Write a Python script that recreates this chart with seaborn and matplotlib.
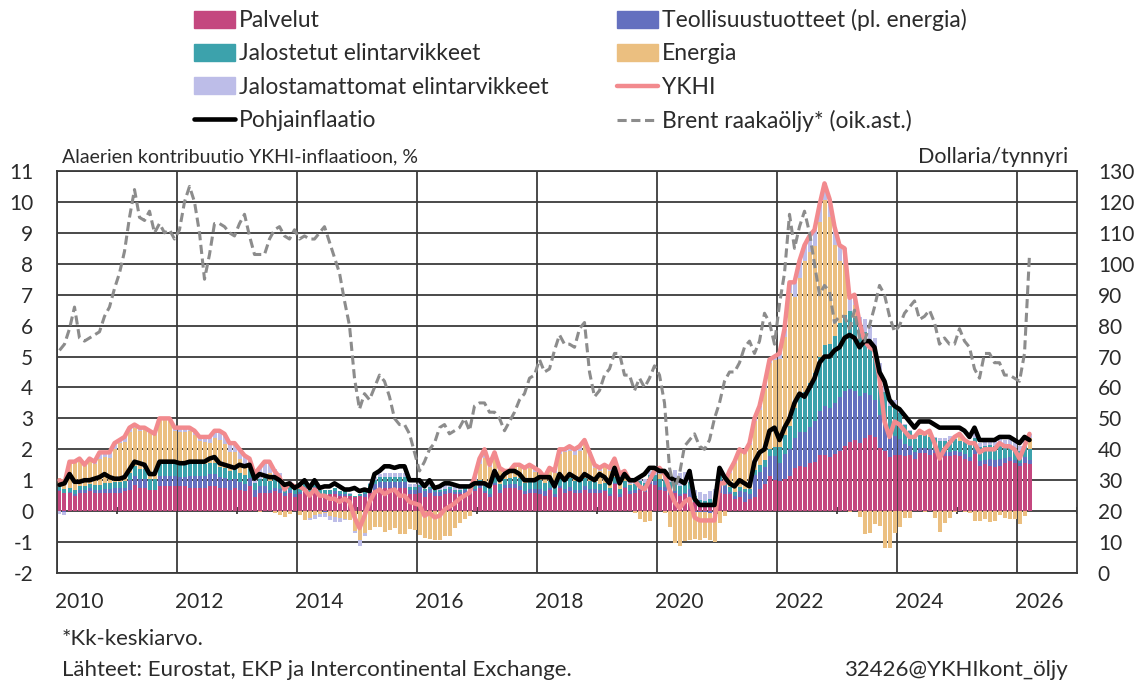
import numpy as np
import pandas as pd
import seaborn as sns
import matplotlib.pyplot as plt
from matplotlib.patches import Patch
from matplotlib.lines import Line2D

# Kuukausidata 1/2010 - 3/2026, kontribuutiot %-yksikköinä
alku = "2010-01"

palvelut = [
    0.65, 0.6, 0.6, 0.5, 0.6, 0.6, 0.65, 0.6, 0.6, 0.6, 0.6, 0.6,            # 2010
    0.6, 0.65, 0.7, 0.85, 0.75, 0.75, 0.7, 0.7, 0.8, 0.8, 0.8, 0.8,          # 2011
    0.8, 0.8, 0.75, 0.75, 0.75, 0.75, 0.8, 0.8, 0.75, 0.75, 0.7, 0.75,       # 2012
    0.7, 0.65, 0.8, 0.45, 0.6, 0.6, 0.6, 0.65, 0.6, 0.5, 0.6, 0.45,          # 2013
    0.55, 0.65, 0.55, 0.75, 0.5, 0.55, 0.55, 0.55, 0.5, 0.5, 0.5, 0.45,      # 2014
    0.5, 0.45, 0.6, 0.7, 0.75, 0.75, 0.75, 0.75, 0.75, 0.75, 0.55, 0.55,     # 2015
    0.6, 0.45, 0.6, 0.5, 0.5, 0.55, 0.6, 0.55, 0.55, 0.6, 0.55, 0.65,        # 2016
    0.74, 0.6, 0.46, 0.83, 0.6, 0.74, 0.74, 0.74, 0.69, 0.55, 0.6, 0.6,      # 2017
    0.55, 0.5, 0.69, 0.46, 0.74, 0.6, 0.64, 0.6, 0.6, 0.69, 0.6, 0.6,        # 2018
    0.6, 0.64, 0.5, 0.87, 0.46, 0.74, 0.55, 0.6, 0.69, 0.63, 0.87, 0.83,     # 2019
    0.69, 0.64, 0.53, 0.6, 0.5, 0.55, 0.41, 0.3, 0.23, 0.2, 0.26, 0.3,       # 2020
    0.59, 0.55, 0.55, 0.38, 0.46, 0.29, 0.38, 0.46, 0.71, 0.88, 1.13, 1.01,  # 2021
    0.97, 1.05, 1.13, 1.39, 1.47, 1.43, 1.55, 1.6, 1.81, 1.81, 1.76, 1.85,   # 2022
    1.94, 2.11, 2.24, 2.29, 2.2, 2.38, 2.46, 2.4, 2.05, 1.95, 1.75, 1.8,     # 2023
    1.82, 1.77, 1.82, 1.68, 1.87, 1.87, 1.82, 1.87, 1.82, 1.77, 1.77, 1.82,  # 2024
    1.79, 1.7, 1.61, 1.84, 1.47, 1.52, 1.47, 1.43, 1.47, 1.56, 1.61, 1.56,   # 2025
    1.47, 1.56, 1.52,                                                        # 2026
]

teollisuus = [
    0.03, -0.02, 0.03, 0.05, 0.1, 0.1, 0.1, 0.1, 0.1, 0.12, 0.12, 0.15,
    0.15, 0.1, 0.3, 0.3, 0.3, 0.3, 0.0, 0.0, 0.35, 0.35, 0.35, 0.35,
    0.3, 0.3, 0.4, 0.4, 0.4, 0.4, 0.4, 0.4, 0.35, 0.32, 0.3, 0.3,
    0.25, 0.22, 0.28, 0.22, 0.2, 0.22, 0.1, 0.1, 0.12, 0.1, 0.1, 0.1,
    0.06, 0.12, 0.06, 0.03, 0.0, -0.03, 0.0, 0.1, 0.05, 0.07, 0.0, 0.0,
    0.0, 0.1, 0.15, 0.18, 0.2, 0.2, 0.2, 0.2, 0.2, 0.2, 0.12, 0.12,
    0.19, 0.19, 0.13, 0.13, 0.13, 0.11, 0.11, 0.08, 0.08, 0.08, 0.08, 0.08,
    0.13, 0.05, 0.08, 0.08, 0.08, 0.11, 0.13, 0.13, 0.13, 0.11, 0.11, 0.13,
    0.18, 0.16, 0.05, 0.08, 0.08, 0.11, 0.13, 0.08, 0.08, 0.11, 0.11, 0.11,
    0.08, 0.05, 0.05, 0.05, 0.08, 0.05, 0.11, 0.08, 0.08, 0.08, 0.11, 0.13,
    0.08, 0.13, 0.13, 0.05, 0.05, 0.05, 0.3, -0.03, -0.03, -0.02, -0.06, -0.1,
    0.41, 0.27, 0.08, 0.11, 0.19, 0.32, 0.19, 0.7, 0.57, 0.54, 0.65, 0.78,
    0.6, 0.81, 0.88, 0.99, 1.09, 1.12, 1.17, 1.3, 1.43, 1.59, 1.59, 1.66,
    1.74, 1.77, 1.72, 1.61, 1.51, 1.43, 1.3, 1.2, 1.05, 0.85, 0.7, 0.62,
    0.51, 0.41, 0.28, 0.23, 0.18, 0.18, 0.18, 0.1, 0.1, 0.13, 0.15, 0.13,
    0.13, 0.15, 0.15, 0.15, 0.15, 0.13, 0.21, 0.21, 0.21, 0.15, 0.13, 0.1,
    0.1, 0.18, 0.13,
]

jalostetut = [
    0.1, 0.12, 0.12, 0.12, 0.12, 0.12, 0.12, 0.14, 0.15, 0.18, 0.2, 0.2,
    0.2, 0.22, 0.25, 0.3, 0.3, 0.3, 0.33, 0.35, 0.37, 0.4, 0.42, 0.42,
    0.42, 0.42, 0.42, 0.4, 0.38, 0.36, 0.35, 0.35, 0.33, 0.32, 0.3, 0.3,
    0.3, 0.3, 0.28, 0.25, 0.25, 0.25, 0.28, 0.3, 0.32, 0.25, 0.22, 0.2,
    0.2, 0.2, 0.18, 0.16, 0.2, 0.14, 0.14, 0.1, 0.1, 0.1, 0.06, 0.05,
    0.07, 0.1, 0.12, 0.14, 0.15, 0.15, 0.15, 0.15, 0.15, 0.15, 0.1, 0.1,
    0.07, 0.07, 0.06, 0.06, 0.06, 0.06, 0.06, 0.06, 0.06, 0.06, 0.07, 0.08,
    0.13, 0.19, 0.2, 0.19, 0.19, 0.19, 0.2, 0.24, 0.25, 0.26, 0.29, 0.26,
    0.27, 0.25, 0.25, 0.27, 0.29, 0.32, 0.31, 0.31, 0.31, 0.27, 0.27, 0.22,
    0.21, 0.21, 0.2, 0.19, 0.19, 0.2, 0.19, 0.19, 0.2, 0.19, 0.2, 0.2,
    0.26, 0.25, 0.29, 0.29, 0.27, 0.26, 0.22, 0.18, 0.14, 0.14, 0.13, 0.13,
    0.17, 0.14, 0.14, 0.13, 0.13, 0.11, 0.14, 0.18, 0.21, 0.22, 0.24, 0.28,
    0.51, 0.6, 0.74, 0.96, 1.14, 1.29, 1.43, 1.58, 1.73, 1.97, 2.04, 2.15,
    2.4, 2.46, 2.51, 2.35, 2.24, 1.98, 1.78, 1.6, 1.35, 1.05, 0.95, 0.92,
    0.84, 0.6, 0.48, 0.42, 0.41, 0.41, 0.39, 0.39, 0.36, 0.38, 0.39, 0.39,
    0.36, 0.39, 0.39, 0.39, 0.45, 0.47, 0.47, 0.48, 0.45, 0.41, 0.39, 0.38,
    0.36, 0.36, 0.36,
]

energia = [
    0.3, 0.32, 0.8, 0.9, 0.85, 0.65, 0.75, 0.7, 0.85, 0.85, 0.8, 1.05,
    1.25, 1.28, 1.3, 1.23, 1.25, 1.28, 1.49, 1.4, 1.43, 1.39, 1.35, 1.03,
    1.03, 1.03, 1.01, 0.9, 0.75, 0.74, 0.67, 0.8, 0.87, 0.79, 0.6, 0.55,
    0.45, 0.35, 0.09, 0.0, -0.02, 0.13, 0.27, -0.05, -0.12, -0.2, -0.08, 0.0,
    -0.11, -0.27, -0.21, -0.14, -0.1, -0.04, -0.17, -0.2, -0.23, -0.25, -0.28, -0.65,
    -0.92, -0.7, -0.62, -0.5, -0.5, -0.67, -0.6, -0.55, -0.75, -0.75, -0.59, -0.62,
    -0.76, -0.87, -0.91, -0.93, -0.94, -0.81, -0.8, -0.56, -0.39, -0.26, -0.15, 0.19,
    0.52, 0.87, 0.68, 0.74, 0.47, 0.22, 0.17, 0.32, 0.37, 0.44, 0.4, 0.29,
    0.27, 0.15, 0.34, 0.43, 0.75, 0.87, 0.85, 0.83, 0.94, 1.09, 0.8, 0.46,
    0.41, 0.53, 0.55, 0.51, 0.38, 0.11, 0.02, -0.06, -0.24, -0.35, -0.31, 0.0,
    0.17, -0.05, -0.5, -1.04, -1.12, -0.96, -0.92, -0.87, -0.89, -0.84, -0.88, -0.91,
    -0.37, -0.15, 0.46, 0.95, 1.19, 1.16, 1.43, 1.56, 1.79, 2.35, 2.77, 2.81,
    2.83, 3.16, 4.3, 3.6, 3.85, 4.24, 4.23, 4.1, 4.37, 4.68, 4.13, 2.94,
    2.02, 1.66, -0.04, 0.43, -0.19, -0.73, -0.7, -0.4, -0.48, -1.2, -1.2, -0.7,
    -0.5, -0.22, -0.23, -0.01, 0.07, -0.04, 0.12, -0.21, -0.66, -0.38, -0.22, -0.03,
    0.14, -0.04, -0.07, -0.33, -0.31, -0.26, -0.34, -0.33, -0.14, -0.21, -0.25, -0.26,
    -0.41, -0.16, 0.35,
]

jalostamattomat = [
    -0.08, -0.12, 0.05, 0.03, 0.03, 0.03, 0.08, 0.06, 0.2, 0.15, 0.18, 0.2,
    0.1, 0.15, 0.15, 0.12, 0.1, 0.07, 0.08, 0.05, 0.05, 0.06, 0.08, 0.1,
    0.15, 0.15, 0.12, 0.15, 0.12, 0.15, 0.18, 0.25, 0.3, 0.32, 0.3, 0.3,
    0.3, 0.28, 0.25, 0.28, 0.35, 0.4, 0.35, 0.3, 0.18, 0.05, 0.06, 0.05,
    0.1, 0.0, -0.08, -0.1, -0.1, -0.12, -0.12, -0.15, -0.12, -0.02, 0.02, -0.05,
    -0.2, -0.1, 0.05, 0.08, 0.1, 0.12, 0.15, 0.15, 0.15, 0.15, 0.12, 0.1,
    0.1, 0.01, 0.07, 0.04, 0.1, 0.14, 0.18, 0.12, 0.1, 0.02, 0.05, 0.1,
    0.18, 0.29, 0.08, 0.06, 0.06, 0.04, 0.06, 0.07, 0.06, 0.04, 0.1, 0.12,
    0.03, 0.04, 0.07, 0.06, 0.14, 0.1, 0.17, 0.18, 0.17, 0.14, 0.12, 0.11,
    0.1, 0.07, 0.1, 0.08, 0.09, 0.2, 0.13, 0.19, 0.07, 0.15, 0.13, 0.14,
    0.2, 0.23, 0.25, 0.4, 0.4, 0.4, 0.39, 0.22, 0.25, 0.22, 0.25, 0.28,
    0.1, 0.09, 0.07, 0.03, 0.03, 0.02, 0.06, 0.1, 0.12, 0.11, 0.11, 0.12,
    0.19, 0.28, 0.35, 0.46, 0.55, 0.52, 0.52, 0.52, 0.56, 0.55, 0.58, 0.6,
    0.5, 0.5, 0.47, 0.32, 0.34, 0.44, 0.46, 0.4, 0.33, 0.25, 0.2, 0.26,
    0.13, 0.04, 0.05, 0.08, 0.07, 0.08, 0.09, 0.05, 0.08, 0.1, 0.11, 0.09,
    0.08, 0.1, 0.12, 0.15, 0.14, 0.14, 0.19, 0.21, 0.21, 0.19, 0.22, 0.22,
    0.18, 0.16, 0.14,
]

ykhi = [
    1.0, 0.9, 1.6, 1.6, 1.7, 1.5, 1.7, 1.6, 1.9, 1.9, 1.9, 2.2,
    2.3, 2.4, 2.7, 2.8, 2.7, 2.7, 2.6, 2.5, 3.0, 3.0, 3.0, 2.7,
    2.7, 2.7, 2.7, 2.6, 2.4, 2.4, 2.4, 2.6, 2.6, 2.5, 2.2, 2.2,
    2.0, 1.8, 1.7, 1.2, 1.4, 1.6, 1.6, 1.3, 1.1, 0.7, 0.9, 0.8,
    0.8, 0.7, 0.5, 0.7, 0.5, 0.5, 0.4, 0.4, 0.3, 0.4, 0.3, -0.2,
    -0.55, -0.15, 0.3, 0.6, 0.7, 0.55, 0.65, 0.7, 0.5, 0.5, 0.3, 0.25,
    0.2, -0.15, -0.05, -0.2, -0.15, 0.05, 0.15, 0.25, 0.4, 0.5, 0.6, 1.1,
    1.7, 2.0, 1.5, 1.9, 1.4, 1.3, 1.3, 1.5, 1.5, 1.4, 1.5, 1.4,
    1.3, 1.1, 1.4, 1.3, 2.0, 2.0, 2.1, 2.0, 2.1, 2.3, 1.9, 1.5,
    1.4, 1.5, 1.4, 1.7, 1.2, 1.3, 1.0, 1.0, 0.8, 0.7, 1.0, 1.3,
    1.4, 1.2, 0.7, 0.3, 0.1, 0.3, 0.4, -0.2, -0.3, -0.3, -0.3, -0.3,
    0.9, 0.9, 1.3, 1.6, 2.0, 1.9, 2.2, 3.0, 3.4, 4.1, 4.9, 5.0,
    5.1, 5.9, 7.4, 7.4, 8.1, 8.6, 8.9, 9.1, 9.9, 10.6, 10.1, 9.2,
    8.6, 8.5, 6.9, 7.0, 6.1, 5.5, 5.3, 5.2, 4.3, 2.9, 2.4, 2.9,
    2.8, 2.6, 2.4, 2.4, 2.6, 2.5, 2.6, 2.2, 1.7, 2.0, 2.2, 2.4,
    2.5, 2.3, 2.2, 2.2, 1.9, 2.0, 2.0, 2.0, 2.2, 2.1, 2.1, 2.0,
    1.7, 2.1, 2.5,
]

pohjainflaatio = [
    0.85, 0.9, 1.2, 0.95, 0.95, 1.0, 1.0, 1.05, 1.1, 1.2, 1.1, 1.05,
    1.05, 1.1, 1.35, 1.6, 1.55, 1.5, 1.2, 1.2, 1.6, 1.6, 1.6, 1.6,
    1.55, 1.55, 1.6, 1.6, 1.6, 1.6, 1.7, 1.75, 1.55, 1.5, 1.45, 1.4,
    1.5, 1.45, 1.5, 1.05, 1.2, 1.15, 1.1, 1.1, 1.0, 0.85, 0.9, 0.75,
    0.85, 1.0, 0.75, 1.0, 0.75, 0.8, 0.8, 0.9, 0.8, 0.7, 0.7, 0.75,
    0.65, 0.7, 0.65, 1.2, 1.3, 1.45, 1.45, 1.4, 1.45, 1.45, 1.0, 1.0,
    1.0, 0.8, 1.0, 0.75, 0.8, 0.9, 0.9, 0.85, 0.8, 0.8, 0.8, 0.9,
    0.9, 0.9, 0.8, 1.3, 1.0, 1.2, 1.3, 1.3, 1.2, 1.0, 1.0, 1.0,
    1.1, 1.1, 1.1, 0.8, 1.2, 1.0, 1.2, 1.1, 1.0, 1.2, 1.1, 1.0,
    1.2, 1.1, 0.9, 1.4, 0.9, 1.2, 1.0, 1.0, 1.1, 1.2, 1.4, 1.4,
    1.3, 1.3, 1.1, 1.0, 1.0, 0.9, 1.3, 0.4, 0.2, 0.2, 0.2, 0.2,
    1.4, 1.1, 0.9, 0.8, 1.0, 0.9, 0.8, 1.6, 1.9, 2.0, 2.6, 2.7,
    2.3, 2.7, 3.0, 3.5, 3.8, 3.7, 4.0, 4.3, 4.8, 5.0, 5.0, 5.2,
    5.3, 5.6, 5.7, 5.6, 5.3, 5.5, 5.5, 5.3, 4.5, 4.2, 3.6, 3.4,
    3.3, 3.1, 2.9, 2.7, 2.9, 2.9, 2.9, 2.8, 2.7, 2.7, 2.7, 2.7,
    2.7, 2.6, 2.4, 2.7, 2.3, 2.3, 2.3, 2.3, 2.4, 2.4, 2.4, 2.3,
    2.2, 2.4, 2.3,
]

# Brent, USD/tynnyri, kk-keskiarvo (oikea asteikko)
brent = [
    72, 74, 79, 86, 76, 75, 76, 77, 78, 83, 86, 92,
    97, 104, 115, 124, 115, 114, 117, 110, 113, 110, 111, 108,
    111, 120, 125, 120, 110, 95, 103, 113, 113, 112, 110, 109,
    113, 116, 109, 103, 103, 103, 108, 111, 112, 109, 108, 111,
    108, 109, 108, 108, 110, 112, 107, 102, 97, 88, 80, 63,
    53, 58, 56, 60, 64, 62, 57, 50, 48, 48, 45, 39,
    33, 36, 40, 42, 47, 48, 45, 46, 47, 50, 46, 54,
    55, 55, 52, 52, 50, 46, 49, 52, 56, 58, 63, 64,
    69, 65, 66, 72, 77, 74, 74, 73, 79, 81, 65, 57,
    59, 64, 66, 71, 71, 64, 64, 59, 63, 60, 63, 67,
    64, 55, 34, 27, 32, 41, 43, 45, 41, 40, 43, 50,
    55, 62, 65, 65, 68, 73, 75, 71, 75, 84, 81, 74,
    87, 97, 116, 105, 112, 117, 110, 100, 90, 93, 91, 81,
    83, 83, 79, 85, 76, 75, 80, 86, 93, 90, 83, 78,
    80, 84, 86, 88, 82, 83, 85, 81, 74, 76, 74, 74,
    79, 75, 73, 66, 63, 71, 71, 68, 68, 64, 64, 63,
    62, 71, 103,
]

vuodet = [str(v) for v in range(2010, 2027, 2)]

df = pd.DataFrame({
    "kk": pd.period_range(alku, periods=len(ykhi), freq="M"),
    "Palvelut": palvelut,
    "Teollisuustuotteet (pl. energia)": teollisuus,
    "Jalostetut elintarvikkeet": jalostetut,
    "Energia": energia,
    "Jalostamattomat elintarvikkeet": jalostamattomat,
    "YKHI": ykhi,
    "Pohjainflaatio": pohjainflaatio,
    "Brent": brent,
})
df["x"] = np.arange(len(df))

osat = ["Palvelut", "Teollisuustuotteet (pl. energia)", "Jalostetut elintarvikkeet",
        "Energia", "Jalostamattomat elintarvikkeet"]
varit = {
    "Palvelut": "#C4477F",
    "Teollisuustuotteet (pl. energia)": "#6470BF",
    "Jalostetut elintarvikkeet": "#3CA2AC",
    "Energia": "#EBBF80",
    "Jalostamattomat elintarvikkeet": "#BDBDE8",
}
pinkki = "#F28A8E"
harmaa = "#8C8C8C"
tekstivari = "#2b2b2b"
ruudukko = "#3a3a3a"

sns.set_theme(style="white")
plt.rcParams["font.family"] = ["Lato", "DejaVu Sans"]
plt.rcParams["axes.unicode_minus"] = False

fig = plt.figure(figsize=(11.42, 6.84), dpi=100)
ax = fig.add_axes([57 / 1142, 1 - 573 / 684, 1020 / 1142, 402 / 684])

# pinotut pylväät, positiiviset ja negatiiviset erikseen kuten Excelissä
pos = np.zeros(len(df))
neg = np.zeros(len(df))
for nimi in osat:
    v = df[nimi].to_numpy()
    pohja = np.where(v >= 0, pos, neg)
    ax.bar(df["x"], v, bottom=pohja, width=0.8, color=varit[nimi],
           linewidth=0, zorder=2)
    pos += np.where(v > 0, v, 0)
    neg += np.where(v < 0, v, 0)

sns.lineplot(data=df, x="x", y="YKHI", ax=ax, color=pinkki, lw=3.2, zorder=3)
sns.lineplot(data=df, x="x", y="Pohjainflaatio", ax=ax, color="black", lw=3.3, zorder=4)

ax.set_xlim(-0.5, 203.5)
ax.set_ylim(-2, 11)
ax.set_yticks(range(-2, 12))
ax.set_xticks(np.arange(4, 204, 24))
ax.set_xticklabels(vuodet)
ax.set_xticks(np.arange(-0.5, 204, 24), minor=True)
ax.set_axisbelow(True)
ax.grid(False)
ax.yaxis.grid(True, color=ruudukko, lw=1.3)
ax.xaxis.grid(True, which="minor", color=ruudukko, lw=1.3)
ax.tick_params(axis="x", which="both", length=0, pad=14, labelsize=15, colors=tekstivari)
ax.tick_params(axis="y", length=0, pad=17, labelsize=15, colors=tekstivari)
ax.set_xlabel("")
ax.set_ylabel("")
for s in ax.spines.values():
    s.set_color(ruudukko)
    s.set_linewidth(1.3)
# vaaka-akselin vuosimerkit nollatasolla
ax.vlines(np.arange(11.5, 204, 24), -0.1, 0.12, color=ruudukko, lw=1.3, zorder=1)

ax2 = ax.twinx()
sns.lineplot(data=df, x="x", y="Brent", ax=ax2, color=harmaa, lw=2.2,
             linestyle=(0, (3.0, 1.5)))
ax2.set_ylim(0, 130)
ax2.set_yticks(range(0, 131, 10))
ax2.tick_params(axis="y", length=0, pad=15, labelsize=15, colors=tekstivari)
ax2.set_ylabel("")
ax2.grid(False)
for s in ax2.spines.values():
    s.set_visible(False)

fig.text(62 / 1142, 1 - 157 / 684, "Alaerien kontribuutio YKHI-inflaatioon, %",
         fontsize=14, color=tekstivari, va="center", ha="left")
fig.text(1068 / 1142, 1 - 157 / 684, "Dollaria/tynnyri",
         fontsize=15.5, color=tekstivari, va="center", ha="right")
fig.text(62 / 1142, 1 - 639 / 684, "*Kk-keskiarvo.",
         fontsize=16, color=tekstivari, va="center", ha="left")
fig.text(62 / 1142, 1 - 670 / 684, "Lähteet: Eurostat, EKP ja Intercontinental Exchange.",
         fontsize=16, color=tekstivari, va="center", ha="left")
fig.text(1068 / 1142, 1 - 670 / 684, "32426@YKHIkont_öljy",
         fontsize=16, color=tekstivari, va="center", ha="right")

# selite: matplotlib täyttää sarakkeet ensin, joten järjestys sen mukaan
kahvat = [
    Patch(color=varit["Palvelut"], label="Palvelut"),
    Patch(color=varit["Jalostetut elintarvikkeet"], label="Jalostetut elintarvikkeet"),
    Patch(color=varit["Jalostamattomat elintarvikkeet"], label="Jalostamattomat elintarvikkeet"),
    Line2D([], [], color="black", lw=3.3, label="Pohjainflaatio"),
    Patch(color=varit["Teollisuustuotteet (pl. energia)"], label="Teollisuustuotteet (pl. energia)"),
    Patch(color=varit["Energia"], label="Energia"),
    Line2D([], [], color=pinkki, lw=3.2, label="YKHI"),
    Line2D([], [], color=harmaa, lw=2.2, linestyle=(0, (3.0, 1.5)),
           label="Brent raakaöljy* (oik.ast.)"),
]
leg = fig.legend(handles=kahvat, loc="upper left", bbox_to_anchor=(194 / 1142, 1 - 9 / 684),
                 ncol=2, frameon=False, fontsize=16.5, handlelength=1.8, handleheight=0.78,
                 handletextpad=0.15, labelspacing=0.54, columnspacing=3.0,
                 borderpad=0, borderaxespad=0)
for t in leg.get_texts():
    t.set_color(tekstivari)

fig.savefig("out.png", dpi=100)
